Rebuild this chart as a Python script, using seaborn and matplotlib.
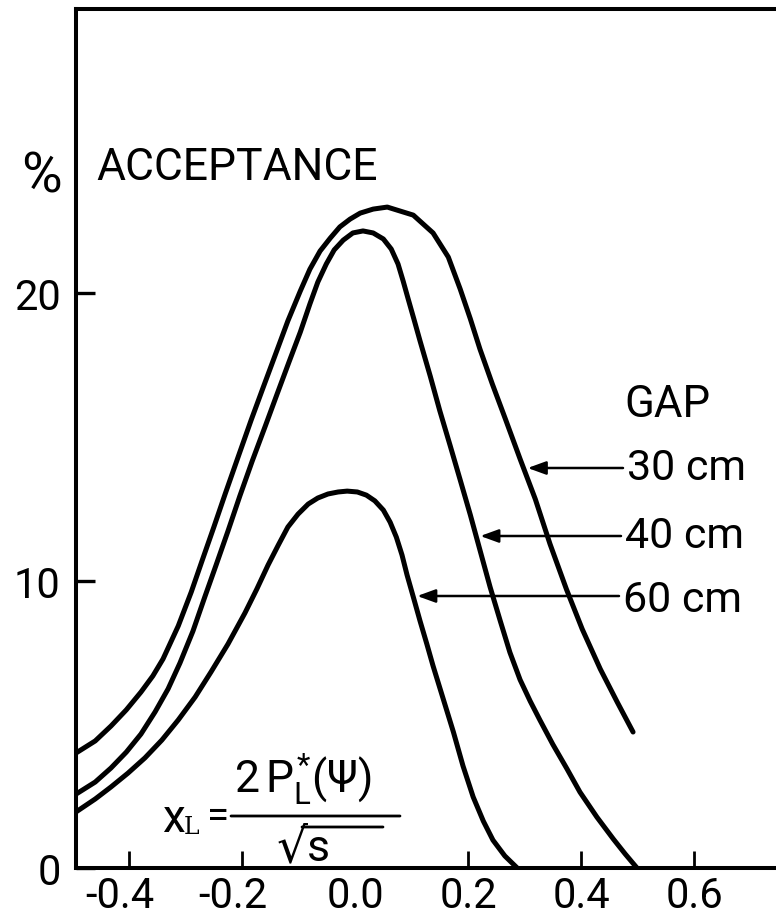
import numpy as np
import pandas as pd
import matplotlib
matplotlib.use("Agg")
import matplotlib.pyplot as plt
import matplotlib.transforms as mtransforms
import seaborn as sns

# ---------------- data ----------------
gaps = ["30 cm", "40 cm", "60 cm"]

x_30 = [-0.494, -0.460, -0.432, -0.405, -0.379, -0.358, -0.340, -0.313, -0.290, -0.271,
        -0.250, -0.230, -0.207, -0.184, -0.163, -0.142, -0.119, -0.097, -0.080, -0.062,
        -0.044, -0.027, -0.009, 0.009, 0.032, 0.057, 0.103, 0.138, 0.165, 0.186,
        0.204, 0.221, 0.243, 0.266, 0.292, 0.319, 0.345, 0.374, 0.402, 0.434,
        0.464, 0.492]
y_30 = [4.00, 4.42, 4.94, 5.50, 6.12, 6.68, 7.27, 8.42, 9.60, 10.68,
        11.86, 13.01, 14.30, 15.58, 16.70, 17.81, 19.03, 20.07, 20.83, 21.46,
        21.91, 22.30, 22.57, 22.78, 22.92, 22.99, 22.71, 22.09, 21.25, 20.14,
        19.10, 18.05, 16.83, 15.62, 14.23, 12.83, 11.27, 9.70, 8.31, 6.92,
        5.77, 4.73]

x_40 = [-0.494, -0.460, -0.432, -0.405, -0.379, -0.354, -0.331, -0.310, -0.287, -0.266,
        -0.246, -0.225, -0.204, -0.182, -0.159, -0.138, -0.117, -0.097, -0.080, -0.066,
        -0.051, -0.037, -0.021, -0.004, 0.014, 0.032, 0.050, 0.064, 0.076, 0.085,
        0.094, 0.104, 0.115, 0.133, 0.150, 0.168, 0.186, 0.204, 0.221, 0.239,
        0.257, 0.274, 0.292, 0.310, 0.327, 0.350, 0.375, 0.398, 0.428, 0.457,
        0.478, 0.499]
y_40 = [2.57, 2.99, 3.48, 4.03, 4.66, 5.43, 6.23, 7.13, 8.24, 9.43,
        10.54, 11.72, 12.94, 14.16, 15.37, 16.49, 17.60, 18.64, 19.62, 20.38,
        21.01, 21.50, 21.84, 22.09, 22.16, 22.09, 21.88, 21.53, 21.01, 20.42,
        19.79, 19.10, 18.33, 17.11, 15.90, 14.71, 13.50, 12.28, 11.06, 9.77,
        8.59, 7.50, 6.55, 5.80, 5.15, 4.30, 3.45, 2.64, 1.77, 1.01,
        0.49, 0.00]

x_60 = [-0.494, -0.460, -0.432, -0.402, -0.372, -0.342, -0.313, -0.283, -0.255, -0.225,
        -0.195, -0.174, -0.154, -0.136, -0.119, -0.101, -0.083, -0.066, -0.048, -0.030,
        -0.014, 0.004, 0.020, 0.035, 0.050, 0.062, 0.073, 0.083, 0.092, 0.103,
        0.115, 0.127, 0.138, 0.156, 0.174, 0.191, 0.209, 0.227, 0.244, 0.265,
        0.287]
y_60 = [1.95, 2.40, 2.82, 3.30, 3.83, 4.45, 5.15, 5.95, 6.82, 7.79,
        8.87, 9.70, 10.54, 11.23, 11.86, 12.31, 12.66, 12.87, 13.01, 13.08,
        13.11, 13.08, 12.97, 12.77, 12.45, 12.03, 11.51, 10.89, 10.19, 9.43,
        8.59, 7.79, 7.03, 5.88, 4.73, 3.55, 2.47, 1.63, 0.97, 0.42,
        0.00]

xtick_vals = [-0.4, -0.2, 0.0, 0.2, 0.4, 0.6]
xtick_labels = ["-0.4", "-0.2", "0.0", "0.2", "0.4", "0.6"]
ytick_vals = [0, 10, 20]
ytick_labels = ["0", "10", "20"]

# ---------------- style ----------------
sns.set_theme(style="white")
plt.rcParams["font.family"] = ["Roboto", "DejaVu Sans"]
plt.rcParams["mathtext.fontset"] = "custom"
plt.rcParams["mathtext.rm"] = "Roboto"
plt.rcParams["mathtext.it"] = "Roboto"
plt.rcParams["mathtext.sf"] = "Roboto"
plt.rcParams["text.color"] = "black"

W, H = 776, 920
L_PX, B_PX, R_PX, T_PX = 76, 869, 776, 10
fig = plt.figure(figsize=(W / 100, H / 100), dpi=100)
ax = fig.add_axes([L_PX / W, (H - B_PX) / H, (R_PX - L_PX) / W, (B_PX - T_PX) / H])

XMIN, XMAX = -0.494, 0.745
YMIN, YMAX = 0.0, 29.88


def px(xp, yp):
    """pixel position in the picture -> data coordinates (for text placement)"""
    xd = XMIN + (xp - L_PX) / (R_PX - L_PX) * (XMAX - XMIN)
    yd = YMIN + (B_PX - yp) / (B_PX - T_PX) * (YMAX - YMIN)
    return xd, yd


series = {"30 cm": (x_30, y_30), "40 cm": (x_40, y_40), "60 cm": (x_60, y_60)}
df = pd.concat(
    [pd.DataFrame({"x": xs, "y": ys, "gap": g}) for g, (xs, ys) in series.items()],
    ignore_index=True,
)
sns.lineplot(data=df, x="x", y="y", hue="gap", estimator=None, sort=False,
             palette={g: "black" for g in gaps}, legend=False, linewidth=3.6, ax=ax)
for ln in ax.lines:
    ln.set_solid_capstyle("round")
    ln.set_solid_joinstyle("round")

ax.set_xlim(XMIN, XMAX)
ax.set_ylim(YMIN, YMAX)
ax.set_xlabel("")
ax.set_ylabel("")

for s in ["left", "bottom", "top"]:
    ax.spines[s].set_linewidth(2.9)
    ax.spines[s].set_color("black")
ax.spines["right"].set_visible(False)

ax.set_xticks(xtick_vals)
ax.set_xticklabels(xtick_labels)
ax.set_yticks(ytick_vals)
ax.set_yticklabels(ytick_labels)
ax.tick_params(axis="y", direction="in", length=14, width=2.4, pad=11,
               labelsize=30, left=True, colors="black")
ax.tick_params(axis="x", direction="in", length=12, width=2.0, pad=5,
               labelsize=30, bottom=True, colors="black")
ax.xaxis.get_major_ticks()[2].tick1line.set_visible(False)

shift = mtransforms.ScaledTranslation(-9 / 100, 0, fig.dpi_scale_trans)
for lab in ax.get_xticklabels():
    if lab.get_text().startswith("-"):
        lab.set_transform(lab.get_transform() + shift)

# ---------------- annotations ----------------
ax.text(*px(96, 180), "ACCEPTANCE", fontsize=32, ha="left", va="baseline")
fig.text(41 / W, (H - 193) / H, "%", fontsize=40, ha="center", va="baseline")

ax.text(*px(624, 417), "GAP", fontsize=31.5, ha="left", va="baseline")
label_pos = {"30 cm": (627, 480, 469), "40 cm": (625, 548, 537), "60 cm": (623, 612, 597)}
for g in gaps:
    xs, ys = series[g]
    tx, tb, ay = label_pos[g]
    ax.text(*px(tx, tb), g, fontsize=31, ha="left", va="baseline")
    # arrow tip where the arrow's height meets the descending side of the curve
    k = int(np.argmax(ys))
    _, ay_d = px(0, ay)
    tip_x = np.interp(ay_d, np.array(ys[k:])[::-1], np.array(xs[k:])[::-1])
    tail = px(tx - 4, ay)
    ax.annotate("", xy=(tip_x, ay_d), xytext=tail,
                arrowprops=dict(arrowstyle="-|>,head_length=0.55,head_width=0.2",
                                color="black", lw=1.8, mutation_scale=20,
                                shrinkA=0, shrinkB=3))

# formula x_L = 2 P*_L(Psi) / sqrt(s)
ax.text(*px(162, 832), "x", fontsize=33, ha="left", va="baseline")
ax.text(*px(184, 834), "L", fontsize=17, ha="left", va="baseline", family="DejaVu Serif")
ax.text(*px(207, 817), "=", fontsize=29, ha="left", va="center")
ax.text(*px(234, 793), r"$2\,P_{L}^{*}(\Psi)$", fontsize=32, ha="left", va="baseline")
ax.annotate("", xy=px(400, 817), xytext=px(231, 817),
            arrowprops=dict(arrowstyle="-", color="black", lw=2.0, shrinkA=0, shrinkB=0))
ax.text(*px(277, 862), "\u221a", fontsize=35, ha="left", va="baseline", family="DejaVu Sans")
ax.text(*px(307, 861), "s", fontsize=32, ha="left", va="baseline")
ax.annotate("", xy=px(383, 828), xytext=px(302, 828),
            arrowprops=dict(arrowstyle="-", color="black", lw=2.0, shrinkA=0, shrinkB=0))

fig.savefig("out.png", dpi=100, facecolor="white")
